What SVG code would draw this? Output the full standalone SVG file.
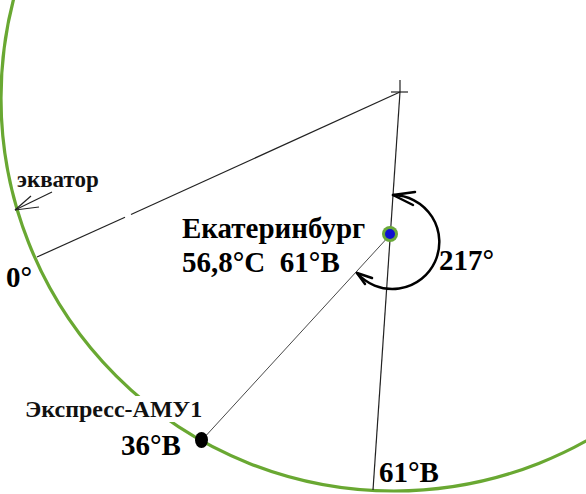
<svg xmlns="http://www.w3.org/2000/svg" width="586" height="494" viewBox="0 0 586 494">
<style>
.big{font-family:"Liberation Serif","Times New Roman",serif;font-weight:bold;font-size:29px;fill:#000}
.mid{font-family:"Liberation Serif","Times New Roman",serif;font-weight:bold;font-size:23px;fill:#111}
.thin{stroke:#222;stroke-width:1.2;fill:none}
.arc{stroke:#000;stroke-width:2.5;fill:none;stroke-linecap:round;stroke-linejoin:round}
</style>
<rect width="586" height="494" fill="#fff"/>
<g id="earth">
<circle cx="394" cy="98" r="393" fill="none" stroke="#69a832" stroke-width="3.2"/>
</g>
<g id="connectors">
<line class="thin" x1="400" y1="92" x2="131" y2="214.5"/>
<line class="thin" x1="125" y1="217.3" x2="37" y2="257"/>
<line class="thin" x1="400" y1="92" x2="373" y2="490"/>
<line class="thin" x1="391" y1="92" x2="408" y2="92"/>
<line class="thin" x1="400" y1="80" x2="400" y2="92"/>
<line stroke="#333" stroke-width="0.9" x1="390" y1="235" x2="202" y2="440"/>
<g id="equator-arrow" class="thin" stroke-width="1">
<line x1="15" y1="210" x2="52" y2="192"/>
<line x1="15" y1="210" x2="31" y2="196"/>
<line x1="15" y1="210" x2="39" y2="207"/>
</g>
<g id="angle-arc">
<path class="arc" d="M393,195 A47,47 0 1 1 357,273"/>
<polyline class="arc" points="415,192 393,195 413,205"/>
<polyline class="arc" points="372,278 357,273 365,284"/>
</g>
</g>
<g id="ekaterinburg">
<circle cx="390" cy="234" r="8" fill="#6aa83a"/>
<circle cx="390" cy="234" r="5" fill="#1010d0"/>
<text class="big" x="182" y="238">Екатеринбург</text>
<text class="big" x="182" y="272">56,8°C&#160; 61°B</text>
</g>
<g id="express">
<rect x="24" y="396" width="177" height="26" fill="#fff"/>
<text class="mid" x="25" y="417" style="font-size:24px">Экспресс-АМУ1</text>
<ellipse cx="201.5" cy="440" rx="6.5" ry="8" fill="#000"/>
<text class="big" x="121" y="455">36°B</text>
</g>
<g id="labels">
<text class="mid" x="17" y="187">экватор</text>
<text class="big" x="6" y="287">0°</text>
<text class="big" x="439" y="270">217°</text>
<text class="big" x="379" y="482">61°B</text>
</g>
</svg>
